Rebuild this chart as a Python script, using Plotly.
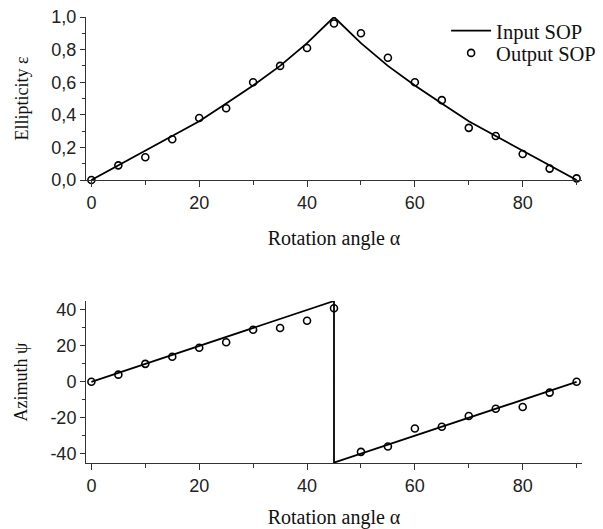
import plotly.graph_objects as go

# ---------------- data ----------------
alpha = [0, 5, 10, 15, 20, 25, 30, 35, 40, 45, 50, 55, 60, 65, 70, 75, 80, 85, 90]

# Ellipticity (top panel)
ell_input = [0.00, 0.09, 0.18, 0.27, 0.36, 0.47, 0.58, 0.70, 0.84, 1.00,
             0.84, 0.70, 0.58, 0.47, 0.36, 0.27, 0.18, 0.09, 0.00]
ell_output = [0.00, 0.09, 0.14, 0.25, 0.38, 0.44, 0.60, 0.70, 0.81, 0.96,
              0.90, 0.75, 0.60, 0.49, 0.32, 0.27, 0.16, 0.07, 0.01]

# Azimuth (bottom panel)
az_input_alpha = [0, 45, 45, 90]
az_input = [0, 45, -45, 0]
az_output = [0, 4, 10, 14, 19, 22, 29, 30, 34, 41,
             -39, -36, -26, -25, -19, -15, -14, -6, 0]

x_tickvals = [0, 20, 40, 60, 80]
x_ticktext = ["0", "20", "40", "60", "80"]
ell_tickvals = [0.0, 0.2, 0.4, 0.6, 0.8, 1.0]
ell_ticktext = ["0,0", "0,2", "0,4", "0,6", "0,8", "1,0"]
az_tickvals = [-40, -20, 0, 20, 40]
az_ticktext = ["-40", "-20", "0", "20", "40"]

x_title = "Rotation angle α"
ell_title = "Ellipticity ε"
az_title = "Azimuth ψ"

# ---------------- figure ----------------
SANS = "Liberation Sans, Arial, sans-serif"
SERIF = "Liberation Serif, Times New Roman, serif"
AX = "#333333"

fig = go.Figure()

line_style = dict(color="black", width=1.8)
marker_style = dict(symbol="circle-open", size=7, color="black", line=dict(width=1.6, color="black"))

fig.add_trace(go.Scatter(x=alpha, y=ell_input, mode="lines", line=line_style,
                         name="Input SOP", xaxis="x", yaxis="y", cliponaxis=False,
                         legend="legend"))
fig.add_trace(go.Scatter(x=alpha, y=ell_output, mode="markers", marker=marker_style,
                         name="Output SOP", xaxis="x", yaxis="y", cliponaxis=False,
                         legend="legend2"))
fig.add_trace(go.Scatter(x=az_input_alpha, y=az_input, mode="lines", line=line_style,
                         showlegend=False, xaxis="x2", yaxis="y2", cliponaxis=False))
fig.add_trace(go.Scatter(x=alpha, y=az_output, mode="markers", marker=marker_style,
                         showlegend=False, xaxis="x2", yaxis="y2", cliponaxis=False))

def xaxis_cfg(anchor):
    return dict(
        domain=[0, 1], anchor=anchor, range=[-1, 91], automargin=False,
        tickvals=x_tickvals, ticktext=x_ticktext, ticklabeloverflow="allow",
        ticks="outside", ticklen=6, tickwidth=1, tickcolor=AX,
        minor=dict(tickvals=[10, 30, 50, 70, 90], ticks="outside", ticklen=4, tickcolor=AX),
        showline=True, linecolor=AX, linewidth=1, showgrid=False, zeroline=False,
        tickfont=dict(family=SANS, size=18, color="#222"),
        title=dict(text=x_title, font=dict(family=SERIF, size=20, color="#111"), standoff=19),
    )

def yaxis_cfg(anchor, domain, rng, tv, tt, minor_vals):
    return dict(
        domain=domain, anchor=anchor, range=rng, automargin=False,
        tickvals=tv, ticktext=tt, ticklabeloverflow="allow",
        ticks="outside", ticklen=5, tickwidth=1, tickcolor=AX,
        minor=dict(tickvals=minor_vals, ticks="outside", ticklen=3, tickcolor=AX),
        showline=True, linecolor=AX, linewidth=1, showgrid=False, zeroline=False,
        tickfont=dict(family=SANS, size=18, color="#222"),
        title=dict(font=dict(family=SERIF, size=18, color="#111"), standoff=18),
    )

legend_common = dict(xanchor="left", yanchor="top", bgcolor="rgba(0,0,0,0)",
                     font=dict(family=SERIF, size=20.5, color="#111"), itemwidth=40)

# page body has an 8px default margin, so the figure is 8px smaller and shifted
fig.update_layout(
    width=595, height=521,
    margin=dict(l=78, r=21, t=9, b=66, autoexpand=False),
    paper_bgcolor="white", plot_bgcolor="white",
    xaxis=xaxis_cfg("y"),
    yaxis=yaxis_cfg("x", [0.6345, 1.0], [0, 1.0], ell_tickvals, ell_ticktext,
                    [0.1, 0.3, 0.5, 0.7, 0.9]),
    xaxis2=xaxis_cfg("y2"),
    yaxis2=yaxis_cfg("x2", [0.0, 0.3632], [-45.2, 45], az_tickvals, az_ticktext,
                     [-30, -10, 10, 30]),
    legend=dict(x=0.726, y=1.014, **legend_common),
    legend2=dict(x=0.726, y=0.964, **legend_common),
    showlegend=True,
)
fig.layout.yaxis.title.text = ell_title
fig.layout.yaxis2.title.text = az_title

fig.write_html("out.html")
